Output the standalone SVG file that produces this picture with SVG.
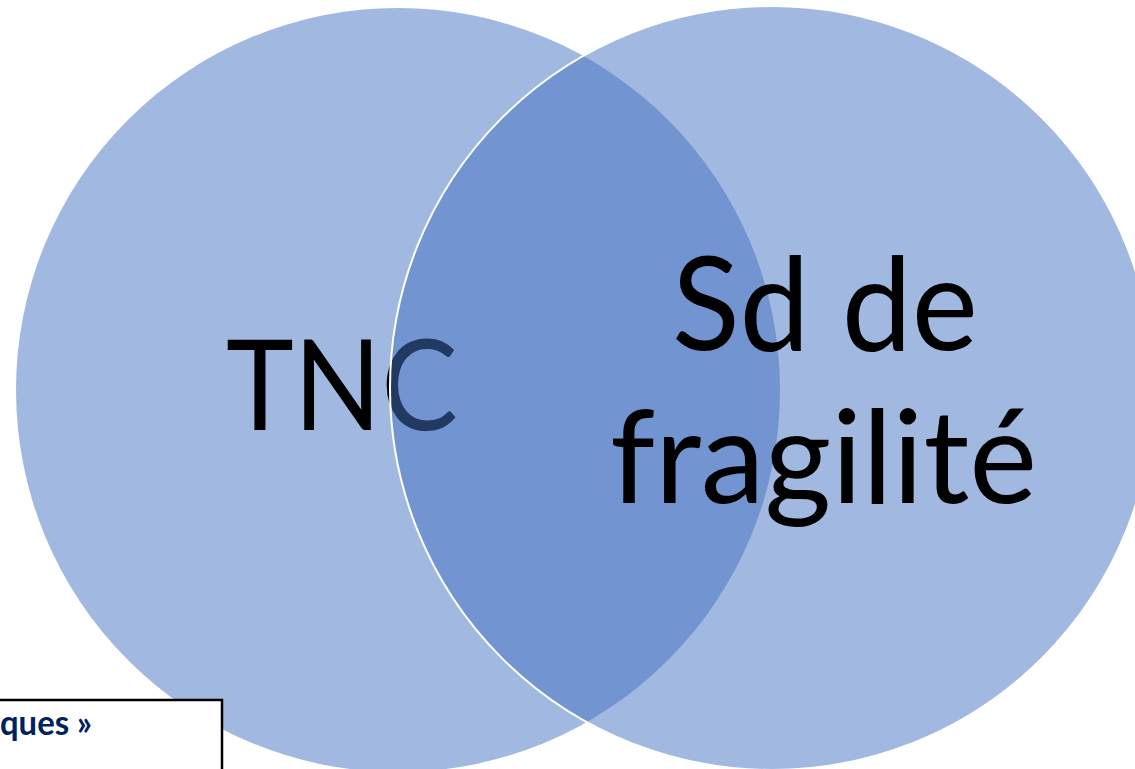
<svg xmlns="http://www.w3.org/2000/svg" width="1135" height="769" viewBox="0 0 1135 769">
  <style>
    .set { fill: #4472C4; fill-opacity: 0.5; }
    .label { font-family: Lato, "Open Sans", "Liberation Sans", sans-serif; fill: #000000; }
    .note { font-family: Lato, "Open Sans", "Liberation Sans", sans-serif; font-weight: bold; font-size: 35px; fill: #002060; }
  </style>
  <rect x="0" y="0" width="1135" height="769" fill="#ffffff"/>

  <!-- left set -->
  <g id="set-tnc">
    <circle class="set" cx="398" cy="390" r="382"/>
    <text class="label" x="226" y="430" font-size="127" textLength="232" lengthAdjust="spacingAndGlyphs">TNC</text>
  </g>

  <!-- right set, drawn over the left one -->
  <g id="set-fragilite">
    <circle class="set" cx="772" cy="388" r="382" stroke="#ffffff" stroke-width="2"/>
    <text class="label" font-size="129">
      <tspan x="672" y="350" textLength="306" lengthAdjust="spacingAndGlyphs">Sd de</tspan>
      <tspan x="610" y="503" textLength="427" lengthAdjust="spacingAndGlyphs">fragilité</tspan>
    </text>
  </g>

  <!-- caption box -->
  <g id="caption">
    <rect x="-10" y="700" width="232" height="90" fill="#ffffff" stroke="#000000" stroke-width="2.5"/>
    <text class="note" x="0" y="735" textLength="92" lengthAdjust="spacingAndGlyphs">ques »</text>
  </g>
</svg>
